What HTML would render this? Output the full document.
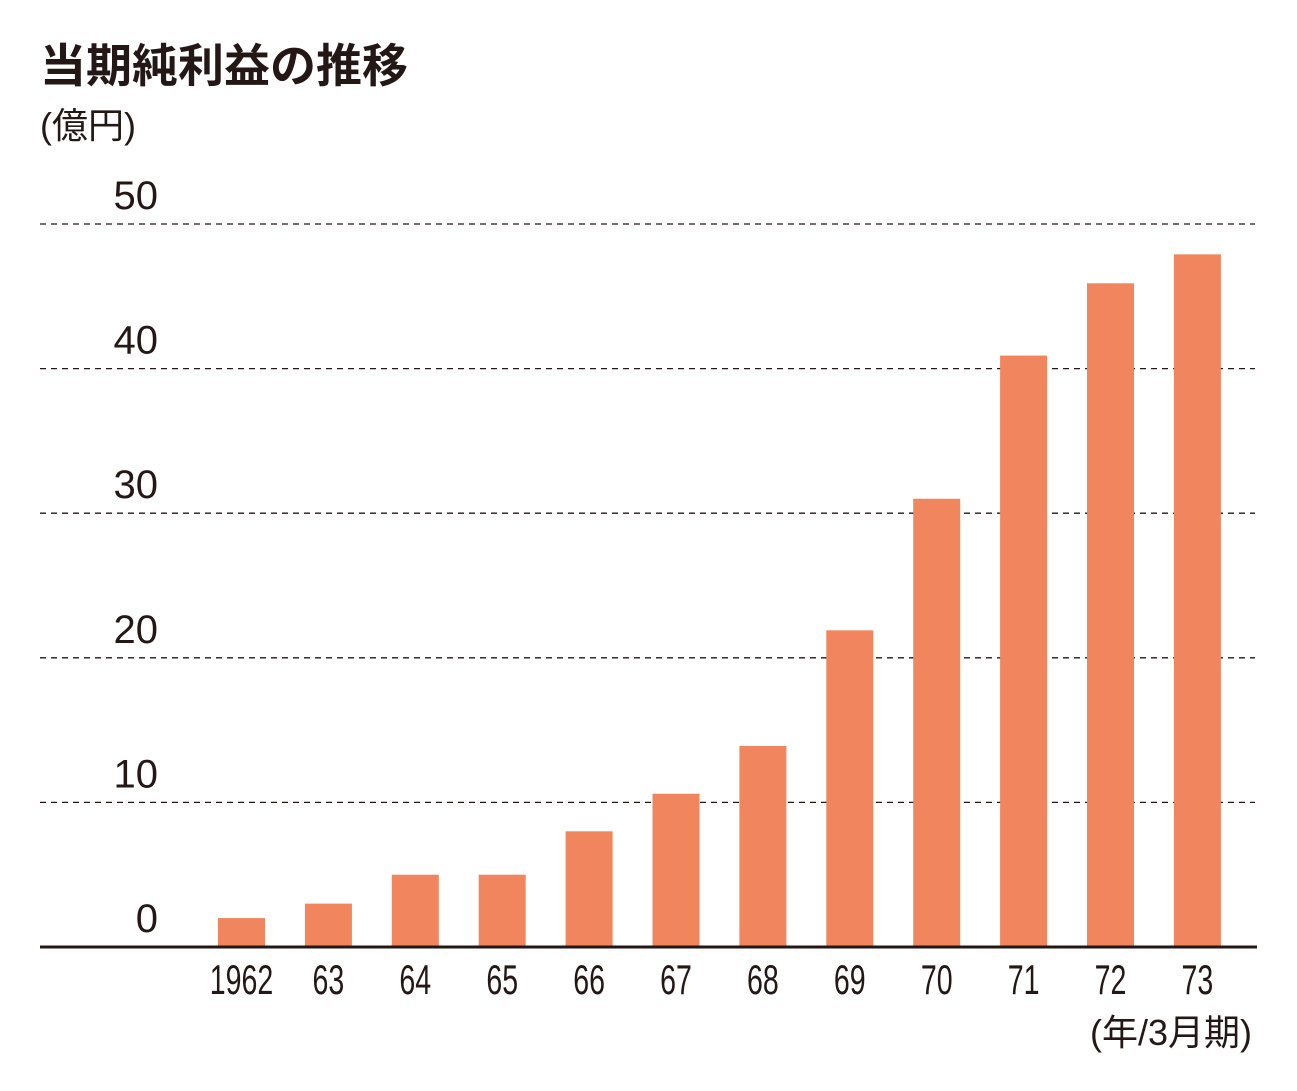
<!DOCTYPE html>
<html><head><meta charset="utf-8">
<style>
body{margin:0;background:#fff;}
svg{display:block;font-family:"Liberation Sans","Noto Sans CJK JP",sans-serif;}
</style></head>
<body>
<svg id="chart" width="1297" height="1091" viewBox="0 0 1297 1091">
<text x="40" y="82" font-size="46" font-weight="bold" fill="#231815">当期純利益の推移</text>
<text x="40" y="138" font-size="36" fill="#231815">(億円)</text>
<text x="1252" y="1045" font-size="36" fill="#231815" text-anchor="end">(年/3月期)</text>
<g id="grid"></g>
<g id="bars"></g>
<g id="xlabels"></g>
<line x1="40" y1="947" x2="1257" y2="947" stroke="#231815" stroke-width="3"/>
</svg>
<script>
const categories = ["1962","63","64","65","66","67","68","69","70","71","72","73"];
const values = [2, 3, 5, 5, 8, 10.6, 13.9, 21.9, 31.0, 40.9, 45.9, 47.9];
const yTicks = [0, 10, 20, 30, 40, 50];

const NS = "http://www.w3.org/2000/svg";
const y0 = 947, yTop = 224, yMax = 50;
function yScale(v){ return y0 - (y0 - yTop) * v / yMax; }
const firstX = 218, pitch = 86.9, barW = 47;
function xScale(i){ return firstX + i * pitch; }

const grid = document.getElementById("grid");
yTicks.forEach(t => {
  const y = yScale(t);
  if (t > 0) {
    const l = document.createElementNS(NS, "line");
    l.setAttribute("x1", 40); l.setAttribute("x2", 1255);
    l.setAttribute("y1", y); l.setAttribute("y2", y);
    l.setAttribute("stroke", "#231815"); l.setAttribute("stroke-width", "1.3");
    l.setAttribute("stroke-dasharray", "6 5");
    
    
    grid.appendChild(l);
  }
  const tx = document.createElementNS(NS, "text");
  tx.setAttribute("x", 158); tx.setAttribute("y", y - 15);
  tx.setAttribute("text-anchor", "end"); tx.setAttribute("font-size", "40");
  tx.setAttribute("fill", "#231815");
  tx.textContent = t;
  
  
  grid.appendChild(tx);
});

const bars = document.getElementById("bars");
const xl = document.getElementById("xlabels");
values.forEach((v, i) => {
  const r = document.createElementNS(NS, "rect");
  const x = xScale(i), y = yScale(v);
  r.setAttribute("x", x); r.setAttribute("y", y);
  r.setAttribute("width", barW); r.setAttribute("height", y0 - y);
  r.setAttribute("fill", "#f0855e");
  
  
  bars.appendChild(r);
  const cx = x + barW / 2;
  const t = document.createElementNS(NS, "text");
  t.setAttribute("transform", "translate(" + cx + ",994) scale(0.68,1)");
  t.setAttribute("text-anchor", "middle"); t.setAttribute("font-size", "42");
  t.setAttribute("fill", "#231815");
  t.textContent = categories[i];
  
  
  xl.appendChild(t);
});
</script>
</body></html>
